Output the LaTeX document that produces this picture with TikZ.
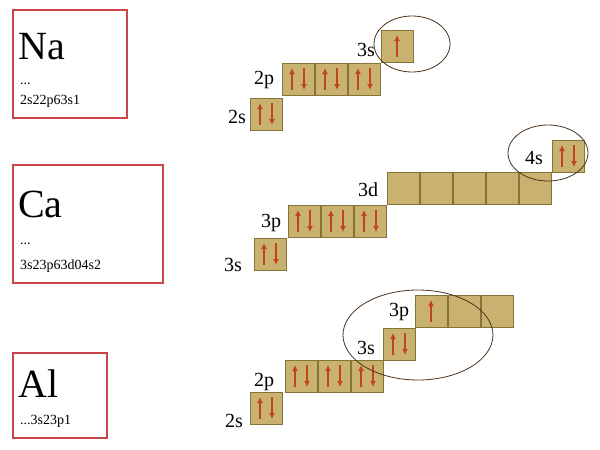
\documentclass[tikz,border=0pt]{standalone}
\usepackage{fontspec}
\setmainfont{Liberation Serif}
\definecolor{cellf}{HTML}{C9B270}
\definecolor{celld}{HTML}{857437}
\definecolor{arr}{HTML}{C0451A}
\definecolor{frm}{HTML}{C8464A}
\tikzset{
 cell/.style={draw=celld,fill=cellf,line width=0.8pt,minimum width=32pt,minimum height=32pt,inner sep=0pt,outer sep=0pt},
 frame/.style={draw=frm,line width=1.2pt},
 lbl/.style={font=\fontsize{20}{20}\selectfont,inner sep=0pt},
 big/.style={font=\fontsize{40}{40}\selectfont,inner sep=0pt,anchor=west},
 small/.style={font=\fontsize{14}{14}\selectfont,inner sep=0pt,anchor=west},
 arw/.style={draw=arr,line width=2pt,-{Latex[length=6pt,width=6pt]}},
 orb/.style={draw=black!60!brown,line width=0.8pt}
}
\usetikzlibrary{arrows.meta}
\newcommand{\ud}[1]{\draw[arw] ([xshift=-6pt,yshift=-11pt]#1.center) -- ++(0,22pt);\draw[arw] ([xshift=6pt,yshift=11pt]#1.center) -- ++(0,-22pt);}
\newcommand{\uo}[1]{\draw[arw] ([yshift=-11pt]#1.center) -- ++(0,22pt);}
\begin{document}
\begin{tikzpicture}[x=1pt,y=-1pt]
\useasboundingbox (0,0) rectangle (600,450);
% left frames
\draw[frame] (13,10) rectangle (127,118);
\node[big] (na) at (18,47) {Na};
\node[small] (nad) at (20,84) {...};
\node[small] (nac) at (20,101) {2s22p63s1};
\draw[frame] (13,165) rectangle (163,283);
\node[big] (ca) at (18,204) {Ca};
\node[small] (cad) at (20,244) {...};
\node[small] (cac) at (20,266) {3s23p63d04s2};
\draw[frame] (13,353) rectangle (107,438);
\node[big] (al) at (18,384) {Al};
\node[small] (alc) at (20,421) {...3s23p1};
% Na
\node[cell] (n2s) at (266,114) {};
\node[cell] (n2p1) at (298,79) {};
\node[cell] (n2p2) at (331,79) {};
\node[cell] (n2p3) at (364,79) {};
\node[cell] (n3s) at (397,46) {};
\node[lbl] at (237,117) {2s};
\node[lbl] at (264,80) {2p};
\node[lbl] at (366,50) {3s};
\ud{n2s}\ud{n2p1}\ud{n2p2}\ud{n2p3}\uo{n3s}
\draw[orb] (412,44) ellipse (38 and 28);
% Ca
\node[cell] (c3s) at (270,254) {};
\node[cell] (c3p1) at (304,221) {};
\node[cell] (c3p2) at (337,221) {};
\node[cell] (c3p3) at (370,221) {};
\foreach \i/\x in {1/403,2/436,3/469,4/502,5/535}{\node[cell] (c3d\i) at (\x,188) {};}
\node[cell] (c4s) at (568,156) {};
\node[lbl] at (233,265) {3s};
\node[lbl] at (271,223) {3p};
\node[lbl] at (368,190) {3d};
\node[lbl] at (534,158) {4s};
\ud{c3s}\ud{c3p1}\ud{c3p2}\ud{c3p3}\ud{c4s}
\draw[orb] (548,153) ellipse (40 and 28);
% Al
\node[cell] (a2s) at (266,408) {};
\node[cell] (a2p1) at (301,376) {};
\node[cell] (a2p2) at (334,376) {};
\node[cell] (a2p3) at (367,376) {};
\node[cell] (a3s) at (399,344) {};
\node[cell] (a3p1) at (431,311) {};
\node[cell] (a3p2) at (464,311) {};
\node[cell] (a3p3) at (497,311) {};
\node[lbl] at (234,421) {2s};
\node[lbl] at (264,382) {2p};
\node[lbl] at (366,348) {3s};
\node[lbl] at (399,312) {3p};
\ud{a2s}\ud{a2p1}\ud{a2p2}\ud{a2p3}\ud{a3s}\uo{a3p1}
\draw[orb] (418,335) ellipse (75 and 45);
\end{tikzpicture}
\end{document}
